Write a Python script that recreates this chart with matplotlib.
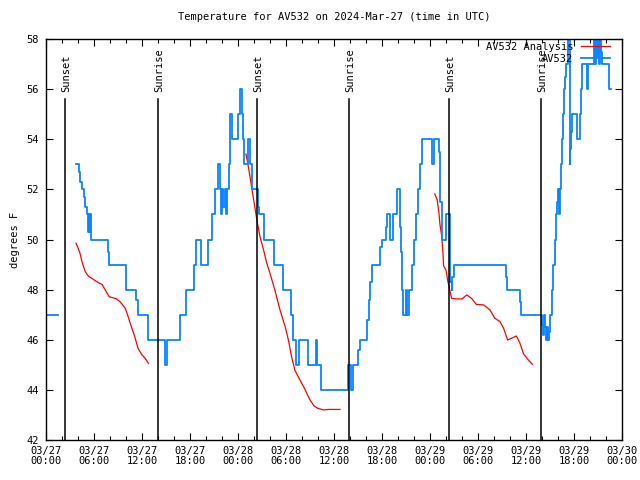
import numpy as np
import matplotlib
matplotlib.use("Agg")
import matplotlib.pyplot as plt

nan = np.nan

# hours since 03/27 00:00 UTC
obs_hours = [0.0, 1.45,
             3.8, 4.1, 4.3, 4.5, 4.7, 4.9, 5.1, 5.3, 5.4, 5.5, 5.55, 5.65,
             7.75, 7.9, 10.0, 11.3, 11.45, 12.8, 14.85, 15.15,
             16.7, 17.5, 18.45, 18.8, 19.35, 20.3, 20.8, 21.1, 21.5,
             21.75, 21.85, 22.0, 22.15, 22.35, 22.5, 22.65, 22.85,
             23.0, 23.3, 24.0, 24.2, 24.5, 24.6, 24.75, 25.3, 25.5, 25.7,
             26.45, 26.6, 27.25, 28.5, 29.6, 30.65, 30.9, 31.3, 31.65,
             32.75, 33.7, 33.85, 34.35,
             37.75, 38.1, 38.4, 39.05, 39.3, 40.15, 40.35, 40.55, 40.7,
             41.8, 41.95, 42.45, 42.6, 43.0, 43.4, 43.85,
             44.25, 44.3, 44.4, 44.5, 44.6, 45.05, 45.15, 45.4,
             45.8, 46.0, 46.25, 46.45, 46.7, 46.95,
             48.2, 48.3, 48.45, 48.55, 49.1, 49.2, 49.3, 49.45, 49.55,
             50.0, 50.45, 50.55, 50.7, 50.8, 51.0,
             57.45, 57.6, 59.3, 59.4,
             62.0, 62.15, 62.3, 62.4, 62.55, 62.65, 62.8, 62.9,
             63.0, 63.2, 63.4, 63.6, 63.75, 63.9, 64.0, 64.1, 64.2,
             64.35, 64.45, 64.6, 64.75, 64.9, 65.0, 65.2,
             65.45, 65.55, 65.65, 65.7, 66.4, 66.75, 66.85, 67.0,
             67.6, 67.8, 68.55, 68.65, 68.75, 68.85, 68.95, 69.1, 69.2,
             69.35, 69.45, 70.35, 70.65]
obs_temps = [47, nan,
             53, 52.7, 52.3, 52, 51.7, 51.3, 51, 50.3, 51, 50.3, 51, 50,
             49.5, 49, 48, 47.6, 47, 46, 45, 46,
             47, 48, 49, 50, 49, 50, 51, 52, 53,
             52, 51, 52, 51.3, 52, 51, 52, 53,
             55, 54, 55, 56, 55, 54, 53, 54, 53, 52,
             51.3, 51, 50, 49, 48, 47, 46, 45, 46,
             45, 46, 45, 44,
             45, 44, 45, 45.6, 46, 46.8, 47.6, 48.3, 49,
             49.7, 50, 50.5, 51, 50, 51, 52,
             51.5, 50.5, 49.5, 48, 47, 48, 47, 48,
             49, 50, 51, 52, 53, 54,
             53.5, 53, 53.5, 54, 53.5, 52.5, 51.5, 51, 50,
             51, 49, 48.3, 48, 48.5, 49,
             48.5, 48, 47.5, 47,
             46.6, 46.2, 47, 46.5, 46, 46.5, 46, 46.3,
             47, 48, 49, 50, 51, 51.5, 52, 51, 52,
             53, 54, 55, 56, 56.5, 57, 58.5,
             53, 53.6, 54.3, 55, 54, 55, 56, 57,
             56, 57, 58, 57, 58.5, 57.3, 58.5, 57, 58.5,
             57.5, 57, 56, 56]

ana_hours = [3.75, 3.95, 4.25, 4.5, 4.9, 5.3, 5.9, 6.7, 7.0, 7.4, 7.9, 8.8,
             9.25, 9.9, 10.2, 10.6, 11.1, 11.5, 12.0, 12.4, 12.8,
             12.9,
             25.0, 25.3, 25.7, 26.1, 26.4, 26.75, 27.2, 27.6, 28.0, 28.6,
             29.25, 29.9, 30.3, 30.7, 31.1, 31.7, 32.2, 32.6, 33.0, 33.5,
             34.0, 34.7, 35.3, 36.75,
             36.8,
             48.6, 48.9, 49.1, 49.25, 49.45, 49.6, 49.7, 50.0, 50.2, 50.4,
             50.7, 51.3, 52.0, 52.6, 53.2, 53.8, 54.7, 55.5, 56.1, 56.75,
             57.2, 57.7, 58.2, 58.8, 59.25, 59.7, 60.3, 60.8]
ana_temps = [49.85, 49.71, 49.45, 49.11, 48.72, 48.54, 48.41, 48.25, 48.21,
             47.99, 47.72, 47.63, 47.52, 47.26, 46.99, 46.59, 46.12, 45.66,
             45.39, 45.26, 45.06,
             nan,
             53.41, 52.9, 52.1, 51.3, 50.7, 50.11, 49.58, 49.05, 48.65, 47.99,
             47.19, 46.52, 45.99, 45.32, 44.79, 44.42, 44.13, 43.86, 43.6,
             43.36, 43.26, 43.2, 43.22, 43.22,
             nan,
             51.82, 51.58, 51.11, 50.58, 50.18, 49.58, 48.94, 48.78, 48.38,
             48.09, 47.65, 47.63, 47.63, 47.79, 47.65, 47.41, 47.39, 47.19,
             46.86, 46.72, 46.46, 45.99, 46.06, 46.15, 45.86, 45.43, 45.19,
             45.02]

sun_hours = [2.4, 14.0, 26.4, 37.9, 50.4, 61.9]
sun_labels = ["Sunset", "Sunrise", "Sunset", "Sunrise", "Sunset", "Sunrise"]

tick_hours = list(range(0, 73, 6))
tick_labels = ["03/27\n00:00", "03/27\n06:00", "03/27\n12:00", "03/27\n18:00",
               "03/28\n00:00", "03/28\n06:00", "03/28\n12:00", "03/28\n18:00",
               "03/29\n00:00", "03/29\n06:00", "03/29\n12:00", "03/29\n18:00",
               "03/30\n00:00"]

plt.rcParams['font.family'] = ['DejaVu Sans Mono']
plt.rcParams['font.size'] = 7.5

fig = plt.figure(figsize=(6.4, 4.8), dpi=100)
ax = fig.add_axes([46/640, 40/480, 576/640, 401/480])

ax.plot(ana_hours, ana_temps, color='#ff0000', lw=0.9, label='AV532 Analysis')
ax.plot(obs_hours, obs_temps, color='#0a84ff', lw=1.3, drawstyle='steps-post', label='AV532')

for h, lab in zip(sun_hours, sun_labels):
    ax.plot([h, h], [42, 55.6], color='black', lw=1.1)
    ax.text(h + 0.15, 55.9, lab, rotation=90, ha='center', va='bottom')

ax.set_xlim(0, 72)
ax.set_ylim(42, 58)
ax.set_xticks(tick_hours)
ax.set_xticklabels(tick_labels, linespacing=1.1)
ax.set_xticks(range(0, 73, 2), minor=True)
ax.set_yticks(range(42, 59, 2))
ax.tick_params(direction='in', top=True, right=True, length=5, width=0.8, pad=4)
ax.tick_params(which='minor', direction='in', top=True, right=True, length=3, width=0.8)
ax.tick_params(axis='y', pad=5)
for s in ax.spines.values():
    s.set_linewidth(1)

ax.set_title("Temperature for AV532 on 2024-Mar-27 (time in UTC)", fontsize=7.5, pad=14)
ax.set_ylabel("degrees F", labelpad=5)

ax.legend(loc='upper right', bbox_to_anchor=(1 - 12/576, 1 - 3/401), frameon=False,
          markerfirst=False, handlelength=2.8, handletextpad=0.7, labelspacing=0.2,
          borderpad=0, borderaxespad=0, fontsize=7.5)

fig.savefig("out.png", dpi=100)
